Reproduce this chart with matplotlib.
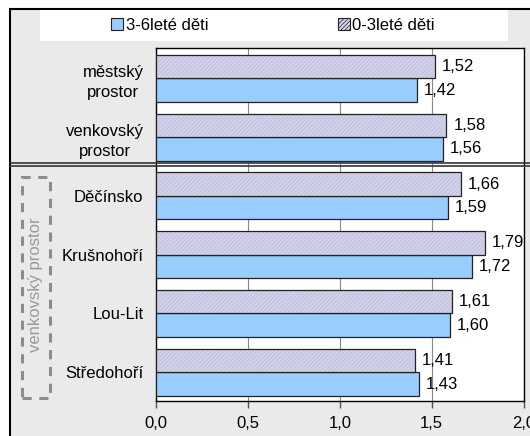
import matplotlib.pyplot as plt
from matplotlib.patches import Rectangle, Patch
from matplotlib.lines import Line2D
import numpy as np

plt.rcParams['font.family'] = ['Liberation Sans', 'DejaVu Sans']
plt.rcParams['font.size'] = 12
plt.rcParams['hatch.linewidth'] = 0.5

# data
kategorie = ["městský\nprostor", "venkovský\nprostor", "Děčínsko", "Krušnohoří", "Lou-Lit", "Středohoří"]
deti_0_3 = [1.52, 1.58, 1.66, 1.79, 1.61, 1.41]
deti_3_6 = [1.42, 1.56, 1.59, 1.72, 1.60, 1.43]
xticky = [0.0, 0.5, 1.0, 1.5, 2.0]

W, H = 530, 436
fig = plt.figure(figsize=(W / 100, H / 100), dpi=100, facecolor='white')

# šedé pozadí s rámečkem
fig.patches.append(Rectangle((10 / W, -0.05), 1.0, 1.05 - 9.5 / H, transform=fig.transFigure,
                             facecolor='#eaeaea', edgecolor='black', lw=1.5, zorder=-10))
# bílý pruh pro legendu
fig.patches.append(Rectangle((40 / W, 1 - 41 / H), 468 / W, 31 / H, transform=fig.transFigure,
                             facecolor='white', edgecolor='none', zorder=-9))

ax = fig.add_axes([156 / W, 1 - 400.5 / H, (523.5 - 156) / W, (400.5 - 48.3) / H])
ax.set_facecolor('white')

y = np.arange(len(kategorie))
h = 0.4
modra = '#99ccff'
fialova = '#d2d2ea'

ax.barh(y + h / 2, deti_3_6, height=h, color=modra, edgecolor='#222222', lw=0.9, zorder=3)
# šrafované pruhy (šrafa zvlášť, obrys zvlášť)
ax.barh(y - h / 2, deti_0_3, height=h, color=fialova, edgecolor='#babada', lw=0, hatch='////////', zorder=3)
ax.barh(y - h / 2, deti_0_3, height=h, fill=False, edgecolor='#222222', lw=0.9, zorder=4)

for i in range(len(kategorie)):
    ax.annotate(f"{deti_0_3[i]:.2f}".replace('.', ','), (deti_0_3[i], y[i] - h / 2),
                xytext=(5, 0), textcoords='offset points', va='center', ha='left')
    ax.annotate(f"{deti_3_6[i]:.2f}".replace('.', ','), (deti_3_6[i], y[i] + h / 2),
                xytext=(5, 0), textcoords='offset points', va='center', ha='left')

ax.set_xlim(0, 2.0)
ax.set_ylim(5.48, -0.51)
ax.set_xticks(xticky)
ax.set_xticklabels([f"{t:.1f}".replace('.', ',') for t in xticky])
ax.set_yticks(y)
ax.set_yticklabels(kategorie, multialignment='center', linespacing=1.45)
ax.tick_params(axis='y', length=0, pad=9)
ax.tick_params(axis='x', length=5, width=1, color='#555555', pad=6, direction='out')
ax.grid(axis='x', color='#888888', lw=0.8, zorder=0)
for s in ax.spines.values():
    s.set_color('black')
    s.set_linewidth(1)

# dvojitá čára mezi skupinami
for yy in (163.5, 166.5):
    fig.add_artist(Line2D([10 / W, 1.0], [1 - yy / H, 1 - yy / H], color='#333333', lw=1.2))

# čárkovaný rámeček s popiskem
fig.patches.append(Rectangle((21.5 / W, 1 - 398 / H), 28.5 / W, 221 / H, transform=fig.transFigure,
                             fill=False, edgecolor='#8c8c8c', lw=2.2, linestyle=(0, (3, 2.5))))
fig.text(35.5 / W, 1 - 285 / H, "venkovský prostor", rotation=90, ha='center', va='center', color='#999999')

# legenda
handles = [Patch(facecolor=modra, edgecolor='#222222', lw=0.8),
           Patch(facecolor=fialova, edgecolor='#222222', lw=0.8, hatch='////////')]
fig.legend(handles, ["3-6leté děti", "0-3leté děti"], ncol=2, loc='center',
           bbox_to_anchor=(273 / W, 1 - 25.5 / H), frameon=False, columnspacing=7.8,
           handlelength=0.7, handleheight=0.7, handletextpad=0.15)

fig.savefig('out.png', dpi=100)
